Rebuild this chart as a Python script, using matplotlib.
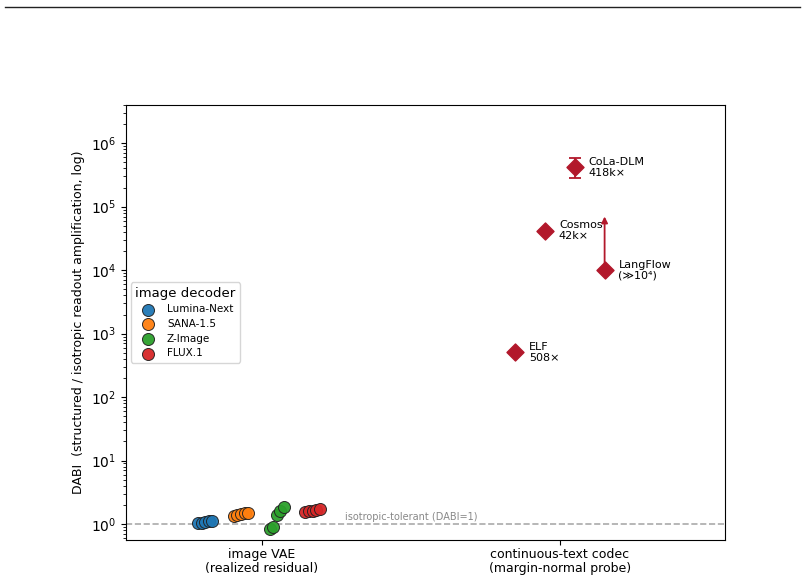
import matplotlib
matplotlib.use("Agg")
import matplotlib.pyplot as plt
from matplotlib.lines import Line2D
import numpy as np

# ---- data ----
categories = ["image VAE\n(realized residual)", "continuous-text codec\n(margin-normal probe)"]
decoders = ["Lumina-Next", "SANA-1.5", "Z-Image", "FLUX.1"]
decoder_colors = ["#1f77b4", "#ff7f0e", "#2ca02c", "#d62728"]
lumina_vals = [1.02, 1.04, 1.07, 1.10, 1.13]
sana_vals = [1.33, 1.39, 1.44, 1.48, 1.51]
zimage_vals = [0.83, 0.90, 1.38, 1.60, 1.88]
flux_vals = [1.53, 1.58, 1.63, 1.67, 1.70]
decoder_values = [lumina_vals, sana_vals, zimage_vals, flux_vals]
group_offsets = [-0.19, -0.07, 0.05, 0.17]
jitter = [-0.024, -0.012, 0.0, 0.012, 0.024]

codecs = ["ELF", "Cosmos", "CoLa-DLM", "LangFlow"]
codec_x = [0.85, 0.95, 1.05, 1.15]
codec_vals = [508, 42000, 418000, 10000]
codec_labels = ["ELF\n508×", "Cosmos\n42k×", "CoLa-DLM\n418k×", "LangFlow\n(≫10⁴)"]
cola_err_low = 280000
cola_err_high = 580000
langflow_arrow_top = 70000
codec_color = "#b2182b"

fig = plt.figure(figsize=(8.04, 5.81), dpi=100)
ax = fig.add_axes([126/804, 1 - 540/581, (725-126)/804, (540-105)/581])

for name, col, vals, off in zip(decoders, decoder_colors, decoder_values, group_offsets):
    xs = [off + j for j in jitter]
    ax.scatter(xs, vals, s=75, color=col, edgecolor="#222222", linewidth=0.7,
               label=name, zorder=3, alpha=0.95)

# codec markers
for x, v, lab in zip(codec_x, codec_vals, codec_labels):
    ax.scatter([x], [v], marker="D", s=75, color=codec_color, zorder=4)
    ax.annotate(lab, (x, v), xytext=(10, 0), textcoords="offset points",
                fontsize=8, va="center", ha="left", linespacing=1.1)

# CoLa error bar
ci = codecs.index("CoLa-DLM")
ax.errorbar([codec_x[ci]], [codec_vals[ci]],
            yerr=[[codec_vals[ci] - cola_err_low], [cola_err_high - codec_vals[ci]]],
            fmt="none", ecolor=codec_color, capsize=4, elinewidth=1.3, capthick=1.3, zorder=3)

# LangFlow arrow
li = codecs.index("LangFlow")
ax.annotate("", xy=(codec_x[li], langflow_arrow_top), xytext=(codec_x[li], codec_vals[li]),
            arrowprops=dict(arrowstyle="-|>", color=codec_color, lw=1.3,
                            mutation_scale=9, shrinkA=0, shrinkB=0), zorder=3)

# reference line
ax.axhline(1.0, color="#aaaaaa", ls="--", lw=1.2, zorder=1)
ax.text(0.28, 1.08, "isotropic-tolerant (DABI=1)", fontsize=7, color="#888888",
        ha="left", va="bottom")

ax.set_yscale("log")
ax.set_ylim(0.56, 4e6)
ax.set_xlim(-0.456, 1.554)
ax.set_xticks([0, 1])
ax.set_xticklabels(categories, fontsize=9, linespacing=1.15)
ax.tick_params(axis="x", pad=2)
ax.set_ylabel("DABI  (structured / isotropic readout amplification, log)", fontsize=9)
ax.tick_params(axis="y", labelsize=10)

leg = ax.legend(title="image decoder", loc="center left", bbox_to_anchor=(0.0, 0.50),
                fontsize=7.5, title_fontsize=9.5, frameon=True, labelspacing=0.45)

fig.add_artist(Line2D([0.006, 0.995], [1 - 7/581, 1 - 7/581], transform=fig.transFigure,
                      color="#222222", lw=1.0))

fig.savefig("out.png", dpi=100)
